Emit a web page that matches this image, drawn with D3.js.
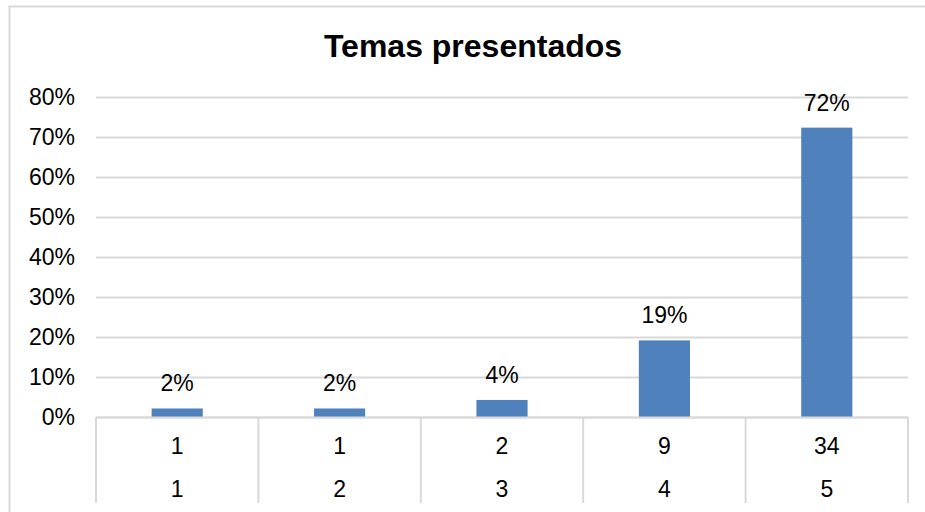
<!DOCTYPE html>
<html><head><meta charset="utf-8">
<script src="https://cdn.jsdelivr.net/npm/d3@7"></script>
<style>body{margin:0;background:#fff}svg{display:block}text{font-family:"Liberation Sans",Arial,sans-serif;fill:#000}</style>
</head><body>
<svg id="c" width="925" height="512"></svg>
<script>
const title = "Temas presentados";
const categories = ["1","2","3","4","5"];
const counts = [1,1,2,9,34];
const values = [0.0213,0.0213,0.0426,0.1915,0.7234];
const labels = ["2%","2%","4%","19%","72%"];
const yTicks = [0,0.1,0.2,0.3,0.4,0.5,0.6,0.7,0.8];

(function(){
const svg = d3.select("#c");
const W = 925, H = 512;
const pL = 96, pR = 908, pT = 97, pB = 417;
const grid = "#d9d9d9";
const fs = 23;

// outer border
svg.append("path").attr("d", `M9.5,${H} V6.5 H${W}`).attr("fill","none").attr("stroke",grid).attr("stroke-width",2);

svg.append("text").attr("x", 473).attr("y", 57).attr("text-anchor","middle")
  .attr("font-size", 32).attr("font-weight","bold").text(title);

const x = d3.scaleBand().domain(categories).range([pL,pR]).paddingInner(0).paddingOuter(0);
const y = d3.scaleLinear().domain([0,0.8]).range([pB,pT]);

// gridlines
svg.append("g").selectAll("line").data(yTicks).join("line")
  .attr("x1",pL).attr("x2",pR).attr("y1",d=>Math.round(y(d))+0.5).attr("y2",d=>Math.round(y(d))+0.5)
  .attr("stroke",grid).attr("stroke-width",2);

// y axis labels
const yAxis = d3.axisLeft(y).tickValues(yTicks).tickFormat(d3.format(".0%")).tickSize(0).tickPadding(21);
const ga = svg.append("g").attr("transform",`translate(${pL},0)`).call(yAxis);
ga.select(".domain").remove();
ga.selectAll("text").attr("font-size",fs).attr("font-family","Liberation Sans, Arial, sans-serif").attr("fill","#000");

// bars
const bw = x.bandwidth()*0.315;
svg.append("g").selectAll("rect").data(values).join("rect")
  .attr("x",(d,i)=>x(categories[i])+x.bandwidth()/2-bw/2)
  .attr("y",d=>y(d)).attr("width",bw).attr("height",d=>pB-y(d))
  .attr("fill","#4f81bd");

// data labels
svg.append("g").selectAll("text").data(values).join("text")
  .attr("x",(d,i)=>x(categories[i])+x.bandwidth()/2)
  .attr("y",d=>y(d)-17).attr("text-anchor","middle").attr("font-size",fs)
  .text((d,i)=>labels[i]);

// table
svg.append("line").attr("x1",pL).attr("x2",pR).attr("y1",pB+0.5).attr("y2",pB+0.5).attr("stroke",grid).attr("stroke-width",2);
const seps = categories.map(c=>x(c)).concat([pR]);
svg.append("g").selectAll("line").data(seps).join("line")
  .attr("x1",d=>d).attr("x2",d=>d).attr("y1",pB).attr("y2",503)
  .attr("stroke",grid).attr("stroke-width",2);
svg.append("g").selectAll("text").data(counts).join("text")
  .attr("x",(d,i)=>x(categories[i])+x.bandwidth()/2).attr("y",454)
  .attr("text-anchor","middle").attr("font-size",fs).text(d=>d);
svg.append("g").selectAll("text").data(categories).join("text")
  .attr("x",d=>x(d)+x.bandwidth()/2).attr("y",497)
  .attr("text-anchor","middle").attr("font-size",fs).text(d=>d);
})();
</script>
</body></html>
